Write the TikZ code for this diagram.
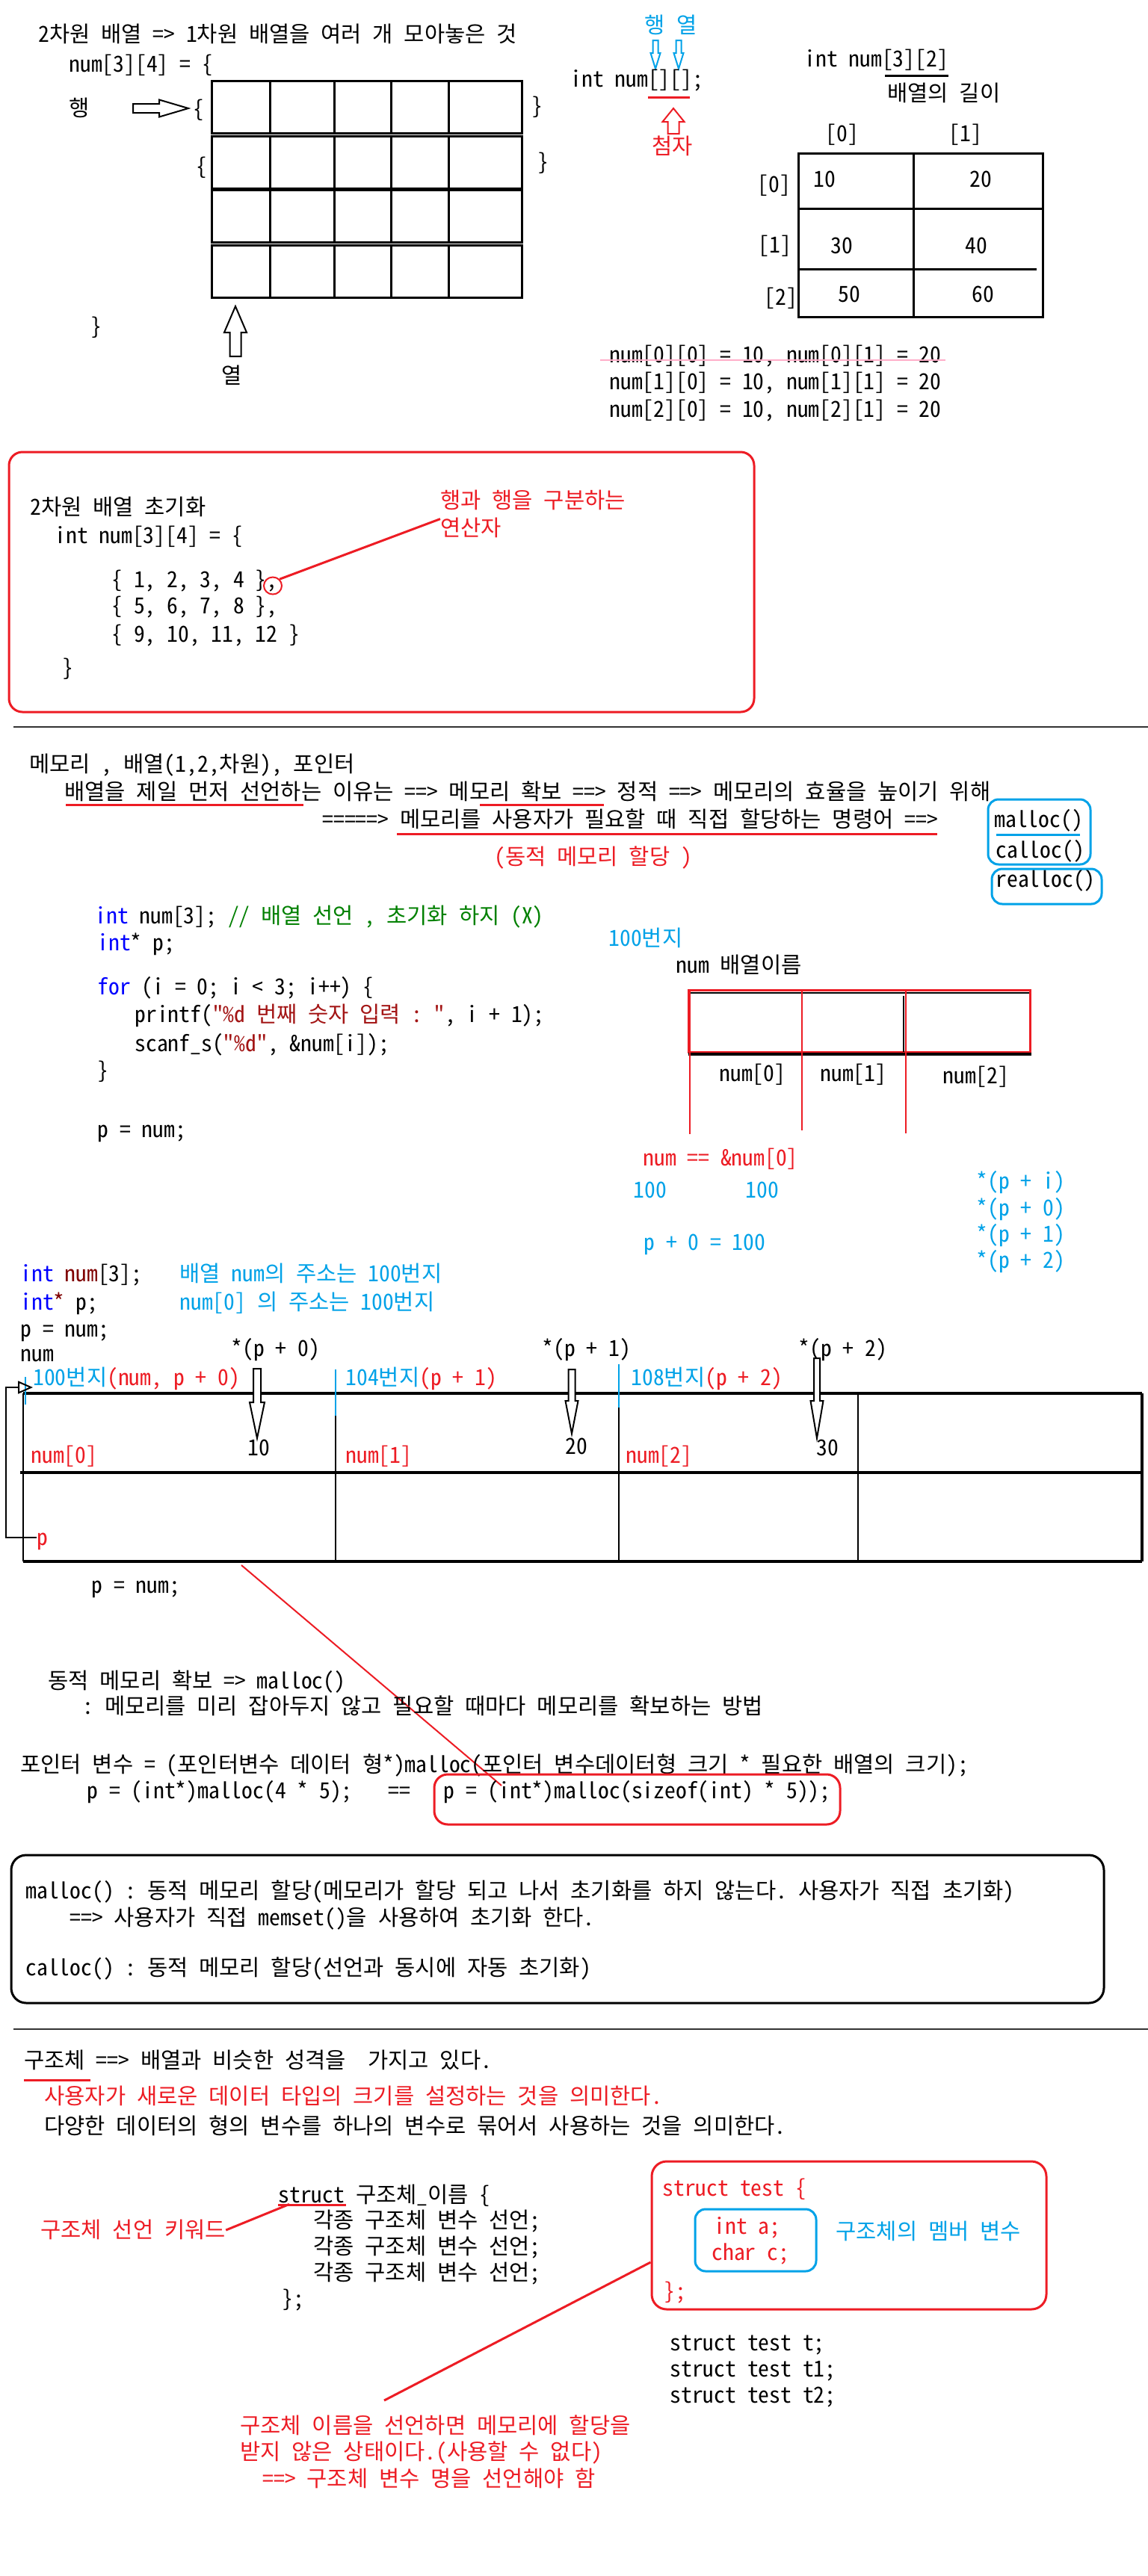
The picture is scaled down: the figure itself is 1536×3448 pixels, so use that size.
\documentclass[tikz,border=0pt]{standalone}
\usepackage{fontspec}
\setmonofont{Noto Sans Mono CJK KR}
\usepackage{tikz}
\usetikzlibrary{arrows.meta,calc,shapes.geometric}
\definecolor{m_red}{HTML}{ED1C24}
\definecolor{m_blue}{HTML}{00A2E8}
\definecolor{m_pink}{HTML}{FFAEC9}
\definecolor{c_key}{HTML}{0000FF}
\definecolor{c_cmt}{HTML}{008000}
\definecolor{c_str}{HTML}{A31515}
\definecolor{c_var}{HTML}{800000}
% hollow block arrow: [opts]{tail}{angle}{length}{shaft half}{head half}{head length}
\newcommand{\blockarrow}[7][]{%
  \draw[#1,shift={#2},rotate=#3] (0,-#5) -- ({#4-#7},-#5) -- ({#4-#7},-#6) -- (#4,0)
    -- ({#4-#7},#6) -- ({#4-#7},#5) -- (0,#5) -- cycle;}

\begin{document}
\begin{tikzpicture}[
        x=0.5pt, y=-0.5pt,
        lbl/.style={anchor=west, inner sep=0pt, text height=11pt, text depth=1pt,
            font=\ttfamily\fontsize{14.8pt}{18pt}\selectfont\frenchspacing},
        redlbl/.style={lbl, text=m_red},
        bluelbl/.style={lbl, text=m_blue},
        cellline/.style={line width=1.5pt},
        memline/.style={line width=2pt},
        thinline/.style={line width=1pt},
        redline/.style={draw=m_red, line width=1.5pt},
        redround/.style={draw=m_red, line width=1.5pt, rounded corners=9pt},
        blueround/.style={draw=m_blue, line width=1.5pt, rounded corners=7pt},
        hollow/.style={line width=1pt, fill=white}
    ]
    \path[use as bounding box, fill=white] (0,0) rectangle (1536,3448);

    % 2차원 배열
    \node[lbl] (title2d) at (51,46) {2차원 배열 => 1차원 배열을 여러 개 모아놓은 것};
    \node[lbl] (decl34) at (92,86) {num[3][4] = \{};
    \node[lbl] (rowlbl) at (92,145) {행};
    \blockarrow[hollow]{(178,145)}{0}{74}{6}{11.5}{39}
    \node[lbl] (lb1) at (258,146) {\{};
    \node[lbl] (rb1) at (711,142) {\}};
    \node[lbl] (lb2) at (262,223) {\{};
    \node[lbl] (rb2) at (719,217) {\}};
    \foreach \y in {108,182,254,328} {
        \draw[cellline] (283,\y) rectangle (698,\y+70);
        \foreach \x in {361,447,523,600}
            \draw[cellline] (\x,\y) -- (\x,\y+70);
    }
    \node[lbl] (close34) at (121,437) {\}};
    \blockarrow[hollow]{(315,477)}{90}{67}{7.5}{15}{35}
    \node[lbl] (collbl) at (296,503) {열};

    \node[bluelbl] (rowtag) at (862,34) {행};
    \node[bluelbl] (coltag) at (905,34) {열};
    \blockarrow[hollow, draw=m_blue]{(877,54)}{-90}{38}{3.5}{6.5}{21}
    \blockarrow[hollow, draw=m_blue]{(908,54)}{-90}{38}{3.5}{6.5}{21}
    \node[lbl] (declempty) at (763,106) {int num[][];};
    \draw[redline] (867,130) -- (923,130);
    \blockarrow[hollow, draw=m_red]{(901,179)}{90}{34}{7.5}{14.5}{18}
    \node[redlbl] (subscr) at (872,196) {첨자};

    \node[lbl] (decl32) at (1076,79) {int num[3][2]};
    \draw[line width=1.5pt] (1184,101) -- (1269,101);
    \node[lbl] (lenlbl) at (1187,125) {배열의 길이};
    \node[lbl] (col0) at (1104,179) {[0]};
    \node[lbl] (col1) at (1269,179) {[1]};
    \draw[cellline] (1068,205) rectangle (1395,424);
    \draw[cellline] (1222,205) -- (1222,424);
    \draw[cellline] (1068,279) -- (1395,279);
    \draw[cellline] (1068,360) -- (1387,360);
    \node[lbl] (row0) at (1013,247) {[0]};
    \node[lbl] (row1) at (1014,328) {[1]};
    \node[lbl] (row2) at (1022,398) {[2]};
    \node[lbl] (v10) at (1088,240) {10};
    \node[lbl] (v20) at (1297,240) {20};
    \node[lbl] (v30) at (1111,329) {30};
    \node[lbl] (v40) at (1291,329) {40};
    \node[lbl] (v50) at (1121,394) {50};
    \node[lbl] (v60) at (1300,394) {60};
    \node[lbl] (acc0) at (815,475) {num[0][0] = 10, num[0][1] = 20};
    \node[lbl] (acc1) at (815,511) {num[1][0] = 10, num[1][1] = 20};
    \node[lbl] (acc2) at (815,548) {num[2][0] = 10, num[2][1] = 20};
    \draw[draw=m_pink, line width=1.2pt] (803,482) -- (1265,482);

    % 초기화
    \draw[redround] (12,605) rectangle (1009,953);
    \node[lbl] (init2d) at (40,679) {2차원 배열 초기화};
    \node[lbl] (initdecl) at (73,717) {int num[3][4] = \{};
    \node[lbl] (initr1) at (149,776) {\{ 1, 2, 3, 4 \},};
    \node[lbl] (initr2) at (149,811) {\{ 5, 6, 7, 8 \},};
    \node[lbl] (initr3) at (149,849) {\{ 9, 10, 11, 12 \}};
    \node[lbl] (initend) at (83,894) {\}};
    \node[draw=m_red, line width=1pt, ellipse, minimum width=12pt, minimum height=11.5pt,
        inner sep=0pt] (comma) at (365,784) {};
    \node[redlbl] (rowsep1) at (589,670) {행과 행을 구분하는};
    \node[redlbl] (rowsep2) at (589,707) {연산자};
    \draw[redline] (comma.north east) -- (rowsep2.north west);

    \draw[draw=black!80, line width=1pt] (18,973) -- (1536,973);

    % 메모리, 배열, 포인터
    \node[lbl] (memhdr) at (39,1023) {메모리 , 배열(1,2,차원), 포인터};
    \node[lbl] (why) at (86,1060) {배열을 제일 먼저 선언하는 이유는 ==> 메모리 확보 ==> 정적 ==> 메모리의 효율을 높이기 위해};
    \draw[redline] (88,1077) -- (406,1077);
    \draw[redline] (642,1077) -- (808,1077);
    \node[lbl] (cmd) at (431,1097) {=====> 메모리를 사용자가 필요할 때 직접 할당하는 명령어 ==>};
    \draw[redline] (531,1116) -- (1254,1116);
    \node[lbl] (fmalloc) at (1330,1097) {malloc()};
    \draw[draw=m_blue, line width=1.5pt] (1333,1117) -- (1445,1117);
    \node[lbl] (fcalloc) at (1332,1138) {calloc()};
    \draw[blueround] (1322,1070) rectangle (1459,1157);
    \node[lbl] (frealloc) at (1332,1177) {realloc()};
    \draw[blueround] (1327,1163) rectangle (1474,1210);
    \node[redlbl] (dynalloc) at (661,1147) {(동적 메모리 할당 )};

    \node[lbl] (code1) at (127,1226) {\textcolor{c_key}{int} num[3]; \textcolor{c_cmt}{// 배열 선언 , 초기화 하지 (X)}};
    \node[lbl] (code2) at (130,1262) {\textcolor{c_key}{int}* p;};
    \node[lbl] (code3) at (130,1321) {\textcolor{c_key}{for} (i = 0; i < 3; i++) \{};
    \node[lbl] (code4) at (180,1358) {printf(\textcolor{c_str}{"\%d 번째 숫자 입력 : "}, i + 1);};
    \node[lbl] (code5) at (180,1397) {scanf\_s(\textcolor{c_str}{"\%d"}, \&num[i]);};
    \node[lbl] (code6) at (130,1433) {\}};
    \node[lbl] (code7) at (130,1512) {p = num;};

    \node[bluelbl] (addr100) at (814,1256) {100번지};
    \node[lbl] (arrname) at (904,1292) {num 배열이름};
    \draw[thinline] (921,1329) -- (1378,1329);
    \draw[draw=m_red, line width=1.5pt] (921,1325) rectangle (1378,1408);
    \draw[memline] (921,1411) -- (1380,1411);
    \draw[thinline] (1209,1333) -- (1209,1408);
    \foreach \x/\y in {923/1518, 1073/1513, 1212/1517}
        \draw[draw=m_red, line width=1pt] (\x,1325) -- (\x,\y);
    \node[lbl] (elem0) at (962,1437) {num[0]};
    \node[lbl] (elem1) at (1097,1437) {num[1]};
    \node[lbl] (elem2) at (1261,1440) {num[2]};
    \node[redlbl] (numeq) at (860,1550) {num == \&num[0]};
    \node[bluelbl] (val100a) at (847,1593) {100};
    \node[bluelbl] (val100b) at (997,1593) {100};
    \node[bluelbl] (poff) at (861,1663) {p + 0 = 100};
    \node[bluelbl] (derefi) at (1306,1581) {*(p + i)};
    \node[bluelbl] (derefa) at (1306,1617) {*(p + 0)};
    \node[bluelbl] (derefb) at (1306,1652) {*(p + 1)};
    \node[bluelbl] (derefc) at (1306,1687) {*(p + 2)};

    % 배열과 포인터
    \node[lbl] (decla) at (27,1705) {\textcolor{c_key}{int} \textcolor{c_var}{num}[3];};
    \node[bluelbl] (declanote) at (240,1705) {배열 num의 주소는 100번지};
    \node[lbl] (declb) at (27,1743) {\textcolor{c_key}{int}\textcolor{c_var}{*} p;};
    \node[bluelbl] (declbnote) at (240,1743) {num[0] 의 주소는 100번지};
    \node[lbl] (assign) at (27,1779) {p = num;};
    \node[lbl] (numname) at (27,1812) {num};
    \node[lbl] (star0) at (309,1805) {*(p + 0)};
    \node[lbl] (star1) at (725,1805) {*(p + 1)};
    \node[lbl] (star2) at (1068,1805) {*(p + 2)};
    \node[lbl] (addr0) at (44,1844) {\textcolor{m_blue}{100번지}\textcolor{m_red}{(num, p + 0)}};
    \node[lbl] (addr1) at (462,1844) {\textcolor{m_blue}{104번지}\textcolor{m_red}{(p + 1)}};
    \node[lbl] (addr2) at (844,1844) {\textcolor{m_blue}{108번지}\textcolor{m_red}{(p + 2)}};
    \draw[memline] (31,1865) -- (1528,1865);
    \draw[memline] (27,1971) -- (1528,1971);
    \draw[memline] (31,2090) -- (1528,2090);
    \draw[memline] (1528,1865) -- (1528,2090);
    \foreach \x in {31,449,828,1148}
        \draw[thinline] (\x,1865) -- (\x,2090);
    \foreach \x/\a/\b in {34/1843/1880, 449/1833/1895, 828/1826/1884}
        \draw[draw=m_blue, line width=1pt] (\x,\a) -- (\x,\b);
    \blockarrow[hollow]{(344,1832)}{-90}{93}{5}{10}{48}
    \blockarrow[hollow]{(765,1833)}{-90}{86}{4.5}{8.5}{44}
    \blockarrow[hollow]{(1093,1818)}{-90}{107}{4}{8.5}{50}
    \node[lbl] (mem10) at (331,1938) {10};
    \node[lbl] (mem20) at (756,1936) {20};
    \node[lbl] (mem30) at (1092,1938) {30};
    \node[redlbl] (cell0) at (41,1948) {num[0]};
    \node[redlbl] (cell1) at (462,1948) {num[1]};
    \node[redlbl] (cell2) at (837,1948) {num[2]};
    \node[redlbl] (pvar) at (49,2058) {p};
    \coordinate (ptrbend) at (8,1857);
    \coordinate (tblcorner) at (44,1857);
    \draw[thinline, -{Triangle[open, length=10pt, width=8.5pt]}]
        (pvar.west) -| (ptrbend) -- (tblcorner);
    \node[lbl] (assign2) at (122,2122) {p = num;};
    \coordinate (tblnote) at (323,2095);
    \coordinate (mallocptr) at (671,2390);
    \draw[draw=m_red, line width=1pt] (tblnote) -- (mallocptr);

    % 동적 메모리
    \node[lbl] (dynsec) at (64,2250) {동적 메모리 확보 => malloc()};
    \node[lbl] (dyndesc) at (110,2284) {: 메모리를 미리 잡아두지 않고 필요할 때마다 메모리를 확보하는 방법};
    \node[lbl] (general) at (27,2362) {포인터 변수 = (포인터변수 데이터 형*)malloc(포인터 변수데이터형 크기 * 필요한 배열의 크기);};
    \node[lbl] (example1) at (116,2397) {p = (int*)malloc(4 * 5);};
    \node[lbl] (exeq) at (519,2397) {==};
    \node[lbl] (example2) at (593,2397) {p = (int*)malloc(sizeof(int) * 5));};
    \draw[redround] (581,2375) rectangle (1124,2442);

    \draw[line width=1.5pt, rounded corners=10pt] (15,2483) rectangle (1477,2681);
    \node[lbl] (mallocdesc) at (34,2531) {malloc() : 동적 메모리 할당(메모리가 할당 되고 나서 초기화를 하지 않는다. 사용자가 직접 초기화)};
    \node[lbl] (mallocdesc2) at (93,2567) {==> 사용자가 직접 memset()을 사용하여 초기화 한다.};
    \node[lbl] (callocdesc) at (34,2634) {calloc() : 동적 메모리 할당(선언과 동시에 자동 초기화)};

    \draw[draw=black!80, line width=1pt] (18,2716) -- (1536,2716);

    % 구조체
    \node[lbl] (structdef) at (32,2758) {구조체 ==> 배열과 비슷한 성격을~ 가지고 있다.};
    \draw[redline] (32,2784) -- (121,2784);
    \node[redlbl] (structred) at (59,2806) {사용자가 새로운 데이터 타입의 크기를 설정하는 것을 의미한다.};
    \node[lbl] (structdesc) at (59,2846) {다양한 데이터의 형의 변수를 하나의 변수로 묶어서 사용하는 것을 의미한다.};
    \node[lbl] (structkw) at (372,2938) {struct 구조체\_이름 \{};
    \draw[redline] (372,2951) -- (463,2951);
    \node[lbl] (member1) at (419,2972) {각종 구조체 변수 선언;};
    \node[lbl] (member2) at (419,3007) {각종 구조체 변수 선언;};
    \node[lbl] (member3) at (419,3042) {각종 구조체 변수 선언;};
    \node[lbl] (structend) at (377,3077) {\};};
    \node[redlbl] (kwlbl) at (54,2985) {구조체 선언 키워드};
    \draw[redline] (kwlbl.east) -- ([xshift=7.5pt]structkw.south west);

    \node[draw=m_red, line width=1.5pt, rounded corners=10pt, minimum width=264pt,
        minimum height=99pt, inner sep=0pt] (testbox) at (1136,2992) {};
    \node[redlbl] (teststart) at (886,2929) {struct test \{};
    \draw[blueround] (930,2957) rectangle (1092,3040);
    \node[redlbl] (mema) at (955,2980) {int a;};
    \node[redlbl] (memc) at (952,3015) {char c;};
    \node[bluelbl] (memlbl) at (1118,2987) {구조체의 멤버 변수};
    \node[redlbl] (testend) at (888,3067) {\};};
    \coordinate (noteptr) at (514,3213);
    \draw[redline] ([yshift=-18pt]testbox.west) -- (noteptr);

    \node[lbl] (tvar0) at (896,3136) {struct test t;};
    \node[lbl] (tvar1) at (896,3171) {struct test t1;};
    \node[lbl] (tvar2) at (896,3206) {struct test t2;};
    \node[redlbl] (note1) at (321,3247) {구조체 이름을 선언하면 메모리에 할당을};
    \node[redlbl] (note2) at (321,3282) {받지 않은 상태이다.(사용할 수 없다)};
    \node[redlbl] (note3) at (351,3318) {==> 구조체 변수 명을 선언해야 함};
\end{tikzpicture}
\end{document}
